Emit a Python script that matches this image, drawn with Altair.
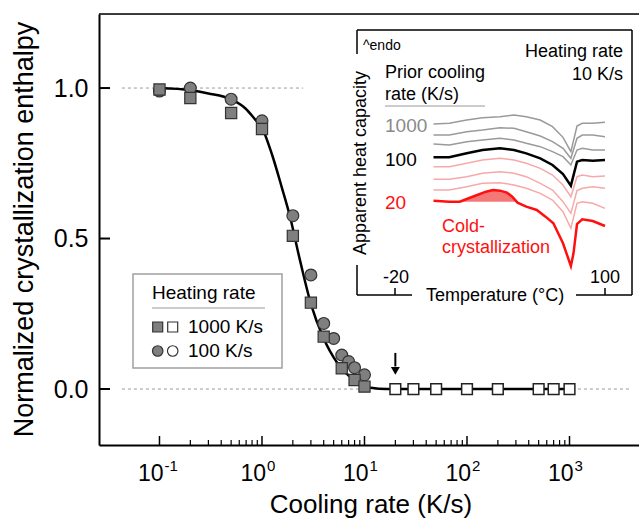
import altair as alt
import pandas as pd

FONT = "Liberation Sans"
W, H = 540, 431

# ---------------- main panel data ----------------
sq_rate = [0.1, 0.2, 0.5, 1, 2, 3, 4, 6, 8, 10]
sq_enth = [0.995, 0.967, 0.917, 0.864, 0.509, 0.287, 0.174, 0.069, 0.030, 0.008]
ci_rate = [0.1, 0.2, 0.5, 1, 2, 3, 4, 5, 6, 7, 8, 10]
ci_enth = [0.99, 1.0, 0.963, 0.891, 0.576, 0.379, 0.218, 0.168, 0.113, 0.091, 0.071, 0.047]
open_rate = [20, 30, 50, 100, 200, 500, 700, 1000]
open_enth = [0, 0, 0, 0, 0, 0, 0, 0]
fit_rate = [0.1, 0.2, 0.3, 0.5, 0.69, 0.86, 1.0, 1.25, 1.56, 1.87, 2.34, 3.03, 3.93, 5.48, 7.94, 11.5, 16.6, 1000]
fit_enth = [1.0, 0.993, 0.982, 0.962, 0.932, 0.895, 0.868, 0.78, 0.67, 0.575, 0.43, 0.278, 0.174, 0.085, 0.03, 0.004, 0.0, 0.0]
ref_x1 = [0.043, 0.043]
ref_x2 = [2.52, 4000]
ref_y = [1.0, 0.0]
x_major = [0.1, 1, 10, 100, 1000]
x_exp = ["-1", "0", "1", "2", "3"]
x_minor = [m * 10.0 ** k for k in range(-1, 3) for m in range(2, 10)]
y_ticks = [0.0, 0.5, 1.0]
arrow_rate = [20]
arrow_top = [0.12]
arrow_bot = [0.075]
arrow_tip = [0.06]

# ---------------- inset data (DSC curves) ----------------
T_grid = [2, 11, 21, 30, 40, 48, 55, 63, 70, 76, 80.5, 84, 87, 93, 100]
cp_1000 = [5.38, 5.40, 5.50, 5.57, 5.60, 5.65, 5.60, 5.50, 5.30, 4.98, 4.55, 5.32, 5.40, 5.40, 5.43]
cp_500 = [5.05, 5.05, 5.15, 5.20, 5.27, 5.25, 5.15, 5.02, 4.85, 4.65, 4.35, 4.95, 5.05, 5.05, 5.00]
cp_200 = [4.78, 4.75, 4.85, 4.90, 4.95, 4.90, 4.80, 4.70, 4.55, 4.40, 4.15, 4.60, 4.65, 4.60, 4.60]
cp_100 = [4.38, 4.38, 4.50, 4.60, 4.65, 4.60, 4.50, 4.35, 4.15, 3.88, 3.53, 4.25, 4.30, 4.28, 4.30]
cp_70 = [4.10, 4.10, 4.20, 4.30, 4.35, 4.30, 4.20, 4.05, 3.85, 3.55, 3.20, 3.80, 3.85, 3.80, 3.82]
cp_50 = [3.72, 3.72, 3.80, 3.90, 3.95, 3.90, 3.80, 3.60, 3.40, 3.05, 2.70, 3.38, 3.45, 3.50, 3.45]
cp_30 = [3.40, 3.40, 3.50, 3.60, 3.62, 3.55, 3.45, 3.30, 3.10, 2.75, 2.25, 3.00, 3.05, 3.00, 2.85]
T_red = [2, 11, 17, 21, 27, 32, 36, 40, 44, 47, 50, 55, 61, 66, 70.5, 76, 80.5, 82, 84, 87, 93, 100]
cp_20 = [3.08, 3.05, 3.05, 3.13, 3.25, 3.35, 3.40, 3.38, 3.32, 3.20, 3.02, 2.90, 2.80, 2.60, 2.40, 1.80, 1.12, 1.50, 2.38, 2.52, 2.47, 2.32]
T_fill = [17, 21, 27, 32, 36, 40, 44, 47, 50]
cp_fill = [3.05, 3.13, 3.25, 3.35, 3.40, 3.38, 3.32, 3.20, 3.05]
cp_fill_base = [3.05] * 9

# ---------------- scales / helpers ----------------
xs = alt.Scale(type="log", domain=[0.0257, 4764], nice=False)
ys = alt.Scale(domain=[-0.186, 1.246], nice=False, zero=False)
xax = alt.Axis(domain=True, domainColor="black", domainWidth=2, ticks=False,
               labels=False, grid=False, title=None)
yax = alt.Axis(values=y_ticks, format=".1f", domain=True, domainColor="black",
               domainWidth=2, ticks=False, grid=False, title=None,
               labelFont=FONT, labelFontSize=25, labelColor="black", labelPadding=11)


def X(f):
    return alt.X(f"{f}:Q", scale=xs, axis=xax)


def Y(f):
    return alt.Y(f"{f}:Q", scale=ys, axis=yax)


one = pd.DataFrame({"a": [0]})


def seg(x1, y1, x2, y2, color="black", width=1.5, dash=None):
    kw = dict(color=color, strokeWidth=width)
    if dash:
        kw["strokeDash"] = dash
    return alt.Chart(one).mark_rule(**kw).encode(
        x=alt.value(x1), y=alt.value(y1), x2=alt.value(x2), y2=alt.value(y2))


def txt(s, x, y, size, color="black", align="left", baseline="middle", angle=None):
    kw = dict(text=s, font=FONT, fontSize=size, color=color, align=align, baseline=baseline)
    if angle is not None:
        kw["angle"] = angle
    return alt.Chart(one).mark_text(**kw).encode(x=alt.value(x), y=alt.value(y))


def pt(x, y, shape, fill, size, stroke="#333333"):
    return alt.Chart(one).mark_point(shape=shape, filled=True, fill=fill, stroke=stroke,
                                     strokeWidth=1.2, size=size, opacity=1).encode(
        x=alt.value(x), y=alt.value(y))


sq_df = pd.DataFrame({"r": sq_rate, "v": sq_enth})
ci_df = pd.DataFrame({"r": ci_rate, "v": ci_enth})
op_df = pd.DataFrame({"r": open_rate, "v": open_enth})
fit_df = pd.DataFrame({"r": fit_rate, "v": fit_enth})
ref_df = pd.DataFrame({"r": ref_x1, "r2": ref_x2, "v": ref_y})
maj_df = pd.DataFrame({"r": x_major, "e": x_exp})
min_df = pd.DataFrame({"r": x_minor})
yt_df = pd.DataFrame({"v": y_ticks})
arr_df = pd.DataFrame({"r": arrow_rate, "v": arrow_top, "v2": arrow_bot, "t": arrow_tip})

main_layers = [
    alt.Chart(ref_df).mark_rule(color="#9a9a9a", strokeWidth=1, strokeDash=[3, 3]).encode(
        x=X("r"), x2=alt.X2("r2"), y=Y("v")),
    alt.Chart(fit_df).mark_line(color="black", strokeWidth=2.5, interpolate="monotone").encode(
        x=X("r"), y=Y("v")),
    alt.Chart(ci_df).mark_point(shape="circle", filled=True, fill="#7f7f7f", stroke="#333333",
                                strokeWidth=1.2, size=140, opacity=1).encode(x=X("r"), y=Y("v")),
    alt.Chart(sq_df).mark_point(shape="square", filled=True, fill="#7f7f7f", stroke="#333333",
                                strokeWidth=1.2, size=125, opacity=1).encode(x=X("r"), y=Y("v")),
    alt.Chart(op_df).mark_point(shape="square", filled=True, fill="white", stroke="#222222",
                                strokeWidth=1.5, size=115, opacity=1).encode(x=X("r"), y=Y("v")),
    alt.Chart(arr_df).mark_rule(color="black", strokeWidth=2).encode(
        x=X("r"), y=Y("v"), y2=alt.Y2("v2")),
    alt.Chart(arr_df).mark_point(shape="triangle-down", filled=True, color="black", size=80,
                                 opacity=1).encode(x=X("r"), y=Y("t")),
    # inward ticks
    alt.Chart(maj_df).mark_rule(color="black", strokeWidth=1.5).encode(
        x=X("r"), y=alt.value(H), y2=alt.value(H - 9)),
    alt.Chart(min_df).mark_rule(color="black", strokeWidth=1.2).encode(
        x=X("r"), y=alt.value(H), y2=alt.value(H - 5)),
    alt.Chart(yt_df).mark_rule(color="black", strokeWidth=2).encode(
        y=Y("v"), x=alt.value(0), x2=alt.value(11)),
    # x tick labels 10^k
    alt.Chart(maj_df).mark_text(text="10", font=FONT, fontSize=23, align="right", dx=4,
                                baseline="alphabetic", color="black").encode(
        x=X("r"), y=alt.value(467)),
    alt.Chart(maj_df).mark_text(font=FONT, fontSize=15, align="left", dx=5,
                                baseline="alphabetic", color="black").encode(
        x=X("r"), y=alt.value(457), text="e:N"),
    # frame top
    seg(0, 0, W, 0, width=1.5),
    # axis titles
    txt("Cooling rate (K/s)", 272, 499, 26, align="center", baseline="alphabetic"),
    txt("Normalized crystallization enthalpy", -66, 215.5, 27, align="center",
        baseline="alphabetic", angle=270),
    # legend
    alt.Chart(one).mark_rect(fill="white", stroke="#a0a0a0", strokeWidth=1.5).encode(
        x=alt.value(34), x2=alt.value(183), y=alt.value(260), y2=alt.value(354)),
    txt("Heating rate", 53, 279, 19),
    seg(53, 294, 166, 294, color="#9a9a9a", width=1.2),
    pt(58.7, 313, "square", "#7f7f7f", 100),
    pt(73.7, 313, "square", "white", 100),
    txt("1000 K/s", 89, 313, 19),
    pt(58.7, 337, "circle", "#7f7f7f", 110),
    pt(73.7, 337, "circle", "white", 110),
    txt("100 K/s", 89, 337, 19),
]

# ---------------- inset ----------------
xi = alt.Scale(domain=[-20, 100], range=[296, 506], nice=False, zero=False)
yi = alt.Scale(domain=[0, 8.5], range=[289.33, 6.0], nice=False, zero=False)


def XI(f):
    return alt.X(f"{f}:Q", scale=xi, axis=None)


def YI(f):
    return alt.Y(f"{f}:Q", scale=yi, axis=None)


gray_df = pd.DataFrame({
    "T": T_grid * 3,
    "cp": cp_1000 + cp_500 + cp_200,
    "c": ["1000"] * len(T_grid) + ["500"] * len(T_grid) + ["200"] * len(T_grid)})
pink_df = pd.DataFrame({
    "T": T_grid * 3,
    "cp": cp_70 + cp_50 + cp_30,
    "c": ["70"] * len(T_grid) + ["50"] * len(T_grid) + ["30"] * len(T_grid)})
black_df = pd.DataFrame({"T": T_grid, "cp": cp_100})
red_df = pd.DataFrame({"T": T_red, "cp": cp_20})
fill_df = pd.DataFrame({"T": T_fill, "cp": cp_fill, "b": cp_fill_base})

IL, IR, IT, IB = 258, 533, 16, 281
inset_layers = [
    alt.Chart(fill_df).mark_area(color="#f03030", opacity=0.65).encode(
        x=XI("T"), y=YI("cp"), y2=alt.Y2("b")),
    alt.Chart(gray_df).mark_line(color="#9a9a9a", strokeWidth=1.5).encode(
        x=XI("T"), y=YI("cp"), detail="c:N"),
    alt.Chart(pink_df).mark_line(color="#f7a9a9", strokeWidth=1.5).encode(
        x=XI("T"), y=YI("cp"), detail="c:N"),
    alt.Chart(black_df).mark_line(color="black", strokeWidth=2.5).encode(
        x=XI("T"), y=YI("cp")),
    alt.Chart(red_df).mark_line(color="#ff1010", strokeWidth=2.5).encode(
        x=XI("T"), y=YI("cp")),
    # frame pieces
    seg(IL, IT, IR, IT),
    seg(IR, IT, IR, IB),
    seg(IL, IT, IL, 40),
    seg(IL, 251, IL, IB),
    seg(IL, IB, 313, IB),
    seg(477, IB, IR, IB),
    seg(296, IB, 296, IB - 7),
    seg(506, IB, 506, IB - 7),
    txt("-20", 297, 264, 18, align="center"),
    txt("100", 506, 264, 18, align="center"),
    txt("Temperature (°C)", 396, 282, 18, align="center"),
    txt("Apparent heat capacity", 262, 149, 18, align="center", angle=270),
    txt("^endo", 264, 32, 14),
    txt("Heating rate", 524, 38, 18, align="right"),
    txt("10 K/s", 524, 61, 18, align="right"),
    txt("Prior cooling", 286, 59, 18),
    txt("rate (K/s)", 286, 81, 18),
    seg(286, 92, 386, 92, color="#9a9a9a", width=1.2),
    txt("1000", 286, 112, 19, color="#8a8a8a"),
    txt("100", 286, 146, 19, color="black"),
    txt("20", 286, 189, 19, color="#ff1010"),
    txt("Cold-", 343, 213, 18, color="#ff1010"),
    txt("crystallization", 343, 234, 18, color="#ff1010"),
]

main = alt.layer(*main_layers)
inset = alt.layer(*inset_layers)

chart = alt.layer(main, inset).resolve_scale(
    x="independent", y="independent"
).properties(
    width=W, height=H,
    padding={"left": 99, "top": 14, "right": 0, "bottom": 75},
    autosize=alt.AutoSizeParams(type="none"),
).configure_view(stroke=None).configure(font=FONT)

chart.save("out.html", embed_options={"renderer": "svg", "actions": False})
